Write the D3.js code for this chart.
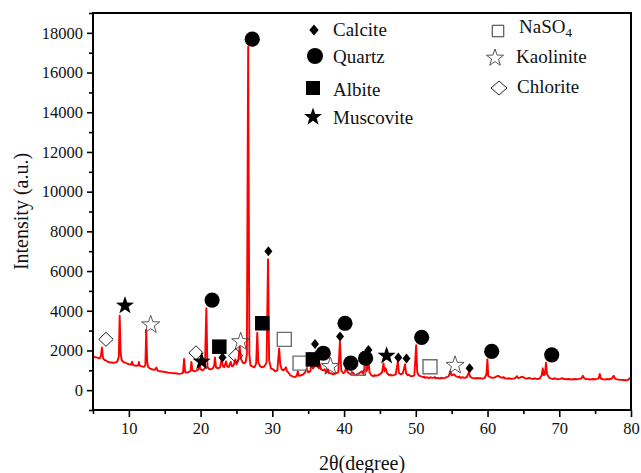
<!DOCTYPE html>
<html>
<head>
<meta charset="utf-8">
<script src="https://cdn.jsdelivr.net/npm/d3@7/dist/d3.min.js"></script>
<style>
  html, body { margin: 0; padding: 0; background: #fff; }
  svg { display: block; }
  svg text { font-family: "Liberation Serif", "Times New Roman", serif !important; fill: #111; }
</style>
</head>
<body>
<script>
// ---------- DATA ----------
// XRD pattern: [2theta (deg), intensity (a.u.)]
const pattern = [
  [5.0,1710],[5.3,1660],[5.6,1640],[5.9,1600],[6.1,1700],[6.25,2150],[6.4,1600],[6.6,1520],[6.8,1500],
  [7.0,1440],[7.3,1400],[7.6,1390],[7.9,1380],[8.2,1400],[8.4,1450],[8.6,1700],[8.72,3750],[8.85,1900],
  [9.0,1500],[9.2,1430],[9.5,1380],[9.8,1330],[10.1,1300],[10.3,1280],[10.45,1430],[10.6,1250],[10.9,1240],
  [11.1,1230],[11.3,1250],[11.4,1420],[11.5,1240],[11.8,1200],[12.1,1180],[12.3,1250],[12.42,3030],[12.55,1450],
  [12.7,1150],[13.0,1080],[13.3,1040],[13.6,1020],[13.85,1140],[14.0,980],[14.3,950],[14.6,940],[14.9,920],
  [15.2,900],[15.5,880],[15.8,870],[16.1,860],[16.4,850],[16.7,840],[17.0,820],[17.3,830],[17.55,880],
  [17.7,1570],[17.85,900],[18.1,880],[18.4,920],[18.6,980],[18.72,1420],[18.85,1000],[19.1,950],[19.4,980],
  [19.7,1040],[19.85,1250],[20.0,1050],[20.2,1000],[20.4,1030],[20.6,1100],[20.8,4130],[20.95,1200],[21.1,1080],
  [21.4,1050],[21.7,1100],[21.9,1250],[22.0,1650],[22.15,1150],[22.4,1100],[22.7,1150],[22.95,1600],[23.1,1200],
  [23.3,1150],[23.55,1450],[23.7,1200],[23.9,1150],[24.2,1420],[24.35,1200],[24.6,1250],[24.85,1550],[25.0,1300],
  [25.25,1500],[25.45,2200],[25.6,1600],[25.85,1400],[26.1,1350],[26.3,1450],[26.45,1800],[26.63,17300],[26.8,1800],
  [26.95,1250],[27.2,1200],[27.5,1150],[27.75,1350],[27.9,2900],[28.05,1400],[28.3,1200],[28.6,1150],[28.9,1200],
  [29.2,1400],[29.4,6600],[29.55,1500],[29.8,1100],[30.1,1050],[30.4,950],[30.7,1000],[30.95,2100],[31.1,1300],
  [31.3,1050],[31.6,1000],[31.9,1150],[32.05,950],[32.2,900],[32.5,750],[32.8,700],[33.1,650],[33.4,720],
  [33.55,950],[33.7,720],[34.0,750],[34.3,800],[34.6,900],[34.8,1100],[35.0,900],[35.3,950],[35.5,1500],
  [35.65,1100],[35.9,1200],[36.05,1950],[36.2,1200],[36.5,1100],[36.65,1300],[36.8,1050],[37.1,1000],[37.3,1050],
  [37.5,900],[37.75,1050],[37.9,850],[38.2,850],[38.5,800],[38.8,850],[39.2,900],[39.42,2450],[39.6,1000],
  [39.9,850],[40.1,900],[40.3,1150],[40.5,900],[40.7,850],[41.0,800],[41.2,900],[41.5,750],[41.8,800],
  [42.1,850],[42.5,950],[42.7,800],[42.95,1450],[43.1,950],[43.2,1000],[43.4,1500],[43.55,900],[43.8,750],
  [44.1,700],[44.25,760],[44.4,720],[44.7,750],[45.0,800],[45.3,900],[45.5,1350],[45.65,950],[45.8,1100],[46.0,850],
  [46.3,750],[46.45,790],[46.6,730],[46.9,760],[47.2,800],[47.5,1450],[47.65,850],[47.9,800],[48.2,850],[48.5,1300],
  [48.65,850],[48.9,750],[49.05,780],[49.2,720],[49.5,700],[49.8,750],[50.05,2270],[50.2,900],[50.4,750],[50.7,700],
  [51.0,650],[51.15,690],[51.3,620],[51.6,650],[51.9,600],[52.05,650],[52.2,630],[52.5,620],[52.65,660],[52.8,600],[53.1,620],[53.4,580],
  [53.55,630],[53.7,600],[54.0,620],[54.3,650],[54.6,700],[54.8,950],[55.0,750],[55.3,800],[55.6,700],[55.9,650],
  [56.05,690],[56.2,620],[56.5,650],[56.8,620],[57.1,650],[57.4,900],[57.55,700],[57.8,620],[58.1,600],[58.4,580],
  [58.55,620],[58.7,600],[59.0,600],[59.3,580],[59.6,620],[59.85,800],[59.98,1550],[60.1,700],[60.4,650],[60.7,620],
  [61.0,640],[61.3,700],[61.5,720],[61.8,650],[62.1,620],[62.25,660],[62.4,600],[62.7,580],[63.0,600],[63.3,570],
  [63.6,580],[63.9,620],[64.1,700],[64.3,600],[64.6,650],[64.9,680],[65.2,600],[65.5,580],[65.8,620],
  [66.1,580],[66.4,560],[66.55,600],[66.7,580],[67.0,560],[67.3,600],[67.55,750],[67.7,1100],[67.85,750],[68.0,800],
  [68.15,1380],[68.3,800],[68.6,620],[68.9,580],[69.2,560],[69.35,600],[69.5,580],[69.8,550],[70.1,570],[70.4,600],
  [70.7,560],[71.0,550],[71.3,560],[71.6,540],[71.9,550],[72.2,560],[72.5,550],[72.8,570],[73.1,600],
  [73.3,720],[73.5,580],[73.8,560],[74.1,550],[74.4,540],[74.7,560],[75.0,550],[75.3,570],[75.5,600],
  [75.65,820],[75.8,580],[76.1,550],[76.4,540],[76.7,560],[77.0,550],[77.3,580],[77.6,720],[77.8,570],
  [78.1,540],[78.4,520],[78.7,520],[79.0,510],[79.3,500],[79.6,520],[79.85,600],[80.0,620]
];

// Phase markers: [2theta, intensity]
const calcite   = [[23.05,1650],[29.45,7000],[35.95,2330],[39.44,2700],[43.4,2020],[47.56,1650],[48.7,1590],[57.5,1100]];
const quartz    = [[21.6,4540],[27.2,17680],[37.1,1860],[40.13,3370],[40.93,1360],[43.0,1610],[50.82,2660],[60.58,1950],[68.95,1780]];
const albite    = [[22.61,2190],[28.6,3370],[35.65,1550]];
const muscovite = [[9.46,4260],[20.15,1440],[45.93,1730]];
const naso4     = [[31.67,2560],[33.86,1360],[42.0,1100],[51.98,1180]];
const kaolinite = [[13.04,3290],[25.59,2440],[38.1,1190],[55.47,1250]];
const chlorite  = [[6.81,2560],[19.36,1880],[24.9,1740]];

const xMajor = [10,20,30,40,50,60,70,80];
const xMinor = [5,15,25,35,45,55,65,75];
const yMajor = [0,2000,4000,6000,8000,10000,12000,14000,16000,18000];
const yMinor = [-1000,1000,3000,5000,7000,9000,11000,13000,15000,17000,19000];

const legendCol1 = ["Calcite","Quartz","Albite","Muscovite"];
const legendCol2 = ["NaSO","Kaolinite","Chlorite"];

// ---------- CHART ----------
const W = 641, H = 473;
const L = 93, R = 631, T = 13, B = 410;
const FONT = '"Liberation Serif", "Times New Roman", serif';

const svg = d3.select("body").append("svg").attr("width", W).attr("height", H)
  .attr("font-family", FONT);

const x = d3.scaleLinear().domain([5, 80]).range([L, R]);
const y = d3.scaleLinear().domain([-1000, 19000]).range([B, T]);

// curve
const line = d3.line().x(d => x(d[0])).y(d => y(d[1]));
svg.append("path").datum(pattern)
  .attr("d", line)
  .attr("fill", "none")
  .attr("stroke", "#ff0000")
  .attr("stroke-width", 1.9)
  .attr("stroke-linejoin", "round");

// symbol helpers
function starPath(R) {
  const r = R * 0.40;
  let p = "";
  for (let i = 0; i < 10; i++) {
    const rad = i % 2 === 0 ? R : r;
    const a = -Math.PI / 2 + i * Math.PI / 5;
    p += (i === 0 ? "M" : "L") + (rad * Math.cos(a)).toFixed(2) + "," + (rad * Math.sin(a)).toFixed(2);
  }
  return p + "Z";
}
function diamondPath(hw, hh) { return `M0,${-hh}L${hw},0L0,${hh}L${-hw},0Z`; }
function squarePath(s) { const h = s / 2; return `M${-h},${-h}H${h}V${h}H${-h}Z`; }
function circlePath(r) { return `M${r},0A${r},${r} 0 1,1 ${-r},0A${r},${r} 0 1,1 ${r},0Z`; }

const styles = {
  calcite:   { d: diamondPath(4, 5),  fill: "#000", stroke: "none", sw: 0 },
  quartz:    { d: circlePath(7.6),    fill: "#000", stroke: "none", sw: 0 },
  albite:    { d: squarePath(14.5),   fill: "#000", stroke: "none", sw: 0 },
  muscovite: { d: starPath(9.5),      fill: "#000", stroke: "none", sw: 0 },
  naso4:     { d: squarePath(14),     fill: "none", stroke: "#6e6e6e", sw: 1.4 },
  kaolinite: { d: starPath(9.5),      fill: "none", stroke: "#444", sw: 0.9 },
  chlorite:  { d: diamondPath(7.2, 7), fill: "none", stroke: "#222", sw: 1.0 }
};

function drawMarkers(data, st) {
  svg.append("g").selectAll("path").data(data).join("path")
    .attr("transform", d => `translate(${x(d[0])},${y(d[1])})`)
    .attr("d", st.d)
    .attr("fill", st.fill)
    .attr("stroke", st.stroke)
    .attr("stroke-width", st.sw);
}
drawMarkers(naso4, styles.naso4);
drawMarkers(kaolinite, styles.kaolinite);
drawMarkers(chlorite, styles.chlorite);
drawMarkers(calcite, styles.calcite);
drawMarkers(albite, styles.albite);
drawMarkers(muscovite, styles.muscovite);
drawMarkers(quartz, styles.quartz);

// axes
const fmt = d3.format("d");
svg.append("g").attr("transform", `translate(0,${B})`)
  .call(d3.axisBottom(x).tickValues(xMajor).tickSize(7).tickPadding(5).tickFormat(fmt));
svg.append("g").attr("transform", `translate(0,${B})`)
  .call(d3.axisBottom(x).tickValues(xMinor).tickSize(4).tickFormat(""));
svg.append("g").attr("transform", `translate(${L},0)`)
  .call(d3.axisLeft(y).tickValues(yMajor).tickSize(6).tickPadding(4).tickFormat(fmt));
svg.append("g").attr("transform", `translate(${L},0)`)
  .call(d3.axisLeft(y).tickValues(yMinor).tickSize(4).tickFormat(""));

svg.selectAll("g").attr("font-family", FONT);
svg.selectAll(".domain").remove();
svg.selectAll(".tick line").attr("stroke", "#000").attr("stroke-width", 1.6);
svg.selectAll(".tick text").attr("font-size", 16.5).attr("fill", "#111");

// frame
svg.append("rect").attr("x", L).attr("y", T).attr("width", R - L).attr("height", B - T)
  .attr("fill", "none").attr("stroke", "#000").attr("stroke-width", 2);

// axis titles
svg.append("text").attr("x", (L + R) / 2).attr("y", 470).attr("text-anchor", "middle")
  .attr("font-size", 20).text("2θ(degree)");
svg.append("text").attr("transform", `translate(28,${(T + B) / 2}) rotate(-90)`)
  .attr("text-anchor", "middle").attr("font-size", 20).text("Intensity (a.u.)");

// legend
const lg = svg.append("g");
const col1Markers = [
  { st: styles.calcite, d: diamondPath(4.7, 5.5), cx: 314, cy: 30 },
  { st: styles.quartz,  d: circlePath(8),          cx: 315, cy: 56 },
  { st: styles.albite,  d: squarePath(14),         cx: 313, cy: 88 },
  { st: styles.muscovite, d: starPath(9.5),        cx: 313, cy: 117 }
];
const col1Base = [36, 63, 96, 124];
legendCol1.forEach((name, i) => {
  const m = col1Markers[i];
  lg.append("path").attr("transform", `translate(${m.cx},${m.cy})`).attr("d", m.d)
    .attr("fill", m.st.fill).attr("stroke", m.st.stroke).attr("stroke-width", m.st.sw);
  lg.append("text").attr("x", 333).attr("y", col1Base[i]).attr("font-size", 19).text(name);
});
const col2Markers = [
  { d: squarePath(11.5), cx: 498, cy: 31, stroke: "#333", sw: 1 },
  { d: starPath(9), cx: 495, cy: 58, stroke: "#444", sw: 0.9 },
  { d: diamondPath(8, 7), cx: 499, cy: 88, stroke: "#222", sw: 1 }
];
const col2Base = [33, 63, 93];
const col2X = [519, 516, 517];
legendCol2.forEach((name, i) => {
  const m = col2Markers[i];
  lg.append("path").attr("transform", `translate(${m.cx},${m.cy})`).attr("d", m.d)
    .attr("fill", "none").attr("stroke", m.stroke).attr("stroke-width", m.sw);
  const t = lg.append("text").attr("x", col2X[i]).attr("y", col2Base[i]).attr("font-size", 19).text(name);
  if (i === 0) {
    t.append("tspan").attr("font-size", 13).attr("dy", 4).text("4");
  }
});
</script>
</body>
</html>
